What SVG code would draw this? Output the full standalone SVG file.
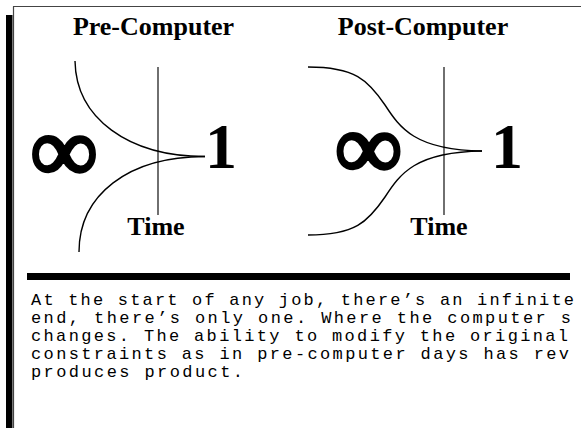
<svg xmlns="http://www.w3.org/2000/svg" width="581" height="428" viewBox="0 0 581 428">
<style>
.title{font-family:"Liberation Serif","Times New Roman",serif;font-weight:bold;font-size:26px;fill:#000;text-anchor:middle}
.big{font-family:"Liberation Serif","Times New Roman",serif;font-weight:bold;font-size:64px;fill:#000}
.inf{font-family:"Liberation Serif","Times New Roman",serif;font-weight:bold;font-size:92px;fill:#000;stroke:#000;stroke-width:3.5;stroke-linejoin:round;text-anchor:middle}
.curve{fill:none;stroke:#000;stroke-width:1.4}
.axis{fill:none;stroke:#222;stroke-width:1.3}
.para{font-family:"Liberation Mono","Courier New",monospace;font-size:17px;fill:#000}
</style>
<rect width="581" height="428" fill="#fff"/>
<g id="frame">
<rect x="6" y="15" width="6.5" height="413" fill="#000"/>
<line x1="13.5" y1="428" x2="13.5" y2="6.5" stroke="#444" stroke-width="1.2"/>
<line x1="13" y1="6.5" x2="581" y2="6.5" stroke="#444" stroke-width="1.2"/>
<rect x="27" y="273" width="543" height="7" fill="#000"/>
</g>
<g id="pre-computer">
<text class="title" x="153.5" y="35">Pre-Computer</text>
<text class="inf" x="64" y="181">∞</text>
<line class="axis" x1="158" y1="67" x2="158" y2="215"/>
<text class="big" x="205" y="168">1</text>
<text class="title" x="156" y="235">Time</text>
</g>
<g id="post-computer">
<text class="title" x="423" y="35">Post-Computer</text>
<text class="inf" x="368.5" y="178">∞</text>
<line class="axis" x1="444" y1="67" x2="444" y2="215"/>
<text class="big" x="491" y="168">1</text>
<text class="title" x="439" y="235">Time</text>
</g>
<g id="connectors">
<path class="curve" d="M75,61 C76,118 128,156.5 205,156.5"/>
<path class="curve" d="M205,156.5 C128,156.5 79,195 79,252"/>
<path class="curve" d="M308,67 C355,67 368,80 385,105 C400,128 415,150 482,151"/>
<path class="curve" d="M482,151 C415,152 400,174 385,197 C368,222 355,235 308,235"/>
</g>
<g id="caption">
<text class="para" x="31" y="305" textLength="543" lengthAdjust="spacing">At the start of any job, there’s an infinite</text>
<text class="para" x="31" y="323" textLength="540" lengthAdjust="spacing">end, there’s only one. Where the computer s</text>
<text class="para" x="31" y="341" textLength="537" lengthAdjust="spacing">changes. The ability to modify the original</text>
<text class="para" x="31" y="359" textLength="538" lengthAdjust="spacing">constraints as in pre-computer days has rev</text>
<text class="para" x="31" y="377" textLength="212" lengthAdjust="spacing">produces product.</text>
</g>
</svg>
